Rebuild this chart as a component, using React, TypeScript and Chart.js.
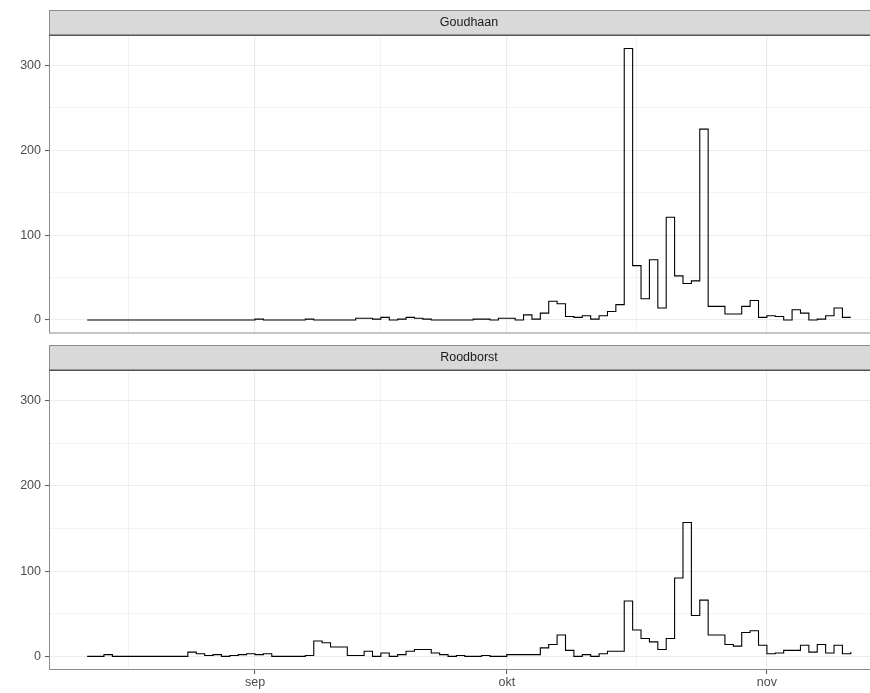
import React, { useEffect, useRef } from "react";
import { Chart, registerables } from "chart.js";

Chart.register(...registerables);

// x values are days relative to 1 september; first observation is 12 augustus
const START_DAY = -20;

const goudhaan = [
  0, 0, 0, 0, 0, 0, 0, 0, 0, 0, 0, 0, 0, 0, 0, 0, 0, 0, 0, 0,
  1, 0, 0, 0, 0, 0, 1, 0, 0, 0, 0, 0, 2, 2, 1, 3, 0, 1, 3, 2,
  1, 0, 0, 0, 0, 0, 1, 1, 0, 2, 2, 0, 6, 1, 8, 22, 19, 4, 3, 5,
  1, 5, 10, 18, 320, 64, 25, 71, 14, 121, 52, 43, 46, 225, 16, 16, 7, 7, 16, 23,
  3, 5, 4, 0, 12, 8, 0, 1, 5, 14, 3, 3,
];

const roodborst = [
  0, 0, 2, 0, 0, 0, 0, 0, 0, 0, 0, 0, 5, 3, 1, 2, 0, 1, 2, 3,
  2, 3, 0, 0, 0, 0, 1, 18, 16, 11, 11, 1, 1, 6, 0, 4, 0, 2, 6, 8,
  8, 4, 2, 0, 1, 0, 0, 1, 0, 0, 2, 2, 2, 2, 10, 14, 25, 7, 0, 2,
  0, 3, 6, 6, 65, 31, 21, 17, 8, 21, 92, 157, 48, 66, 25, 25, 14, 12, 28, 30,
  13, 3, 4, 7, 7, 13, 5, 14, 4, 13, 3, 5,
];

const panelTitles = ["Goudhaan", "Roodborst"];
const monthTicks = [0, 30, 61];
const monthLabels = ["sep", "okt", "nov"];
const minorXTicks = [-15.1, 15, 45.5];
const yMajor = [0, 100, 200, 300];
const yMinor = [50, 150, 250];

const X_MIN = -24.55;
const X_MAX = 75.55;
const Y_MIN = -16;
const Y_MAX = 336;

const FONT = '"Liberation Sans", Arial, Helvetica, sans-serif';
const STRIP_H = 25;

function panelPlugin(title: string) {
  return {
    id: "panelDecor",
    afterDraw(chart: any) {
      const { ctx, chartArea: a } = chart;
      const w = a.right - a.left;
      ctx.save();
      // strip background
      ctx.fillStyle = "#D9D9D9";
      ctx.fillRect(a.left, a.top - STRIP_H, w, STRIP_H);
      ctx.lineWidth = 1;
      ctx.strokeStyle = "#8c8c8c";
      ctx.strokeRect(a.left + 0.5, a.top - STRIP_H + 0.5, w - 1, STRIP_H);
      // panel border
      ctx.strokeRect(a.left + 0.5, a.top + 0.5, w - 1, a.bottom - a.top - 1);
      // darker line between strip and panel
      ctx.strokeStyle = "#555555";
      ctx.lineWidth = 1.5;
      ctx.beginPath();
      ctx.moveTo(a.left, a.top + 0.25);
      ctx.lineTo(a.right, a.top + 0.25);
      ctx.stroke();
      // strip text
      ctx.fillStyle = "#1A1A1A";
      ctx.font = `12.5px ${FONT}`;
      ctx.textAlign = "center";
      ctx.textBaseline = "middle";
      ctx.fillText(title, (a.left + a.right) / 2, a.top - STRIP_H / 2 + 0.5);
      ctx.restore();
    },
  };
}

function makeConfig(values: number[], title: string, showX: boolean, padTop: number, padBottom: number): any {
  const points = values.map((v, i) => ({ x: START_DAY + i, y: v }));
  const isMonth = (v: number) => monthTicks.indexOf(v) >= 0;
  const isYMajor = (v: number) => yMajor.indexOf(v) >= 0;
  return {
    type: "line",
    data: {
      datasets: [
        {
          data: points,
          stepped: true,
          borderColor: "#000000",
          borderWidth: 1.1,
          pointRadius: 0,
          fill: false,
          tension: 0,
        },
      ],
    },
    options: {
      responsive: false,
      animation: false,
      events: [],
      layout: { padding: { top: padTop, bottom: padBottom, left: 0, right: 3 } },
      plugins: { legend: { display: false }, tooltip: { enabled: false } },
      scales: {
        x: {
          type: "linear",
          min: X_MIN,
          max: X_MAX,
          bounds: "data",
          afterBuildTicks: (s: any) => {
            s.ticks = [...minorXTicks, ...monthTicks].sort((p, q) => p - q).map((v) => ({ value: v }));
          },
          afterFit: (s: any) => {
            s.height = showX ? 23 : 0;
          },
          border: { display: false },
          grid: {
            color: "#EBEBEB",
            lineWidth: (c: any) => (c.tick && isMonth(c.tick.value) ? 1.1 : 0.6),
            drawTicks: showX,
            tickLength: 4,
            tickWidth: 1,
            tickColor: (c: any) => (c.tick && isMonth(c.tick.value) ? "#555555" : "rgba(0,0,0,0)"),
          },
          ticks: {
            display: showX,
            autoSkip: false,
            maxRotation: 0,
            padding: 1,
            color: "#4D4D4D",
            font: { family: FONT, size: 12.5 },
            callback: (v: number) => {
              const i = monthTicks.indexOf(v);
              return i >= 0 ? monthLabels[i] : "";
            },
          },
        },
        y: {
          type: "linear",
          min: Y_MIN,
          max: Y_MAX,
          bounds: "data",
          afterBuildTicks: (s: any) => {
            s.ticks = [...yMajor, ...yMinor].sort((p, q) => p - q).map((v) => ({ value: v }));
          },
          afterFit: (s: any) => {
            s.width = 49;
          },
          border: { display: false },
          grid: {
            color: "#EBEBEB",
            lineWidth: (c: any) => (c.tick && isYMajor(c.tick.value) ? 1.1 : 0.6),
            drawTicks: true,
            tickLength: 4,
            tickWidth: 1,
            tickColor: (c: any) => (c.tick && isYMajor(c.tick.value) ? "#555555" : "rgba(0,0,0,0)"),
          },
          ticks: {
            autoSkip: false,
            padding: 4,
            color: "#4D4D4D",
            font: { family: FONT, size: 12.5 },
            callback: (v: number) => (isYMajor(v) ? String(v) : ""),
          },
        },
      },
    },
    plugins: [panelPlugin(title)],
  };
}

export default function App() {
  const ref1 = useRef<HTMLCanvasElement | null>(null);
  const ref2 = useRef<HTMLCanvasElement | null>(null);

  useEffect(() => {
    const c1 = new Chart(ref1.current as HTMLCanvasElement, makeConfig(goudhaan, panelTitles[0], false, 35, 10));
    const c2 = new Chart(ref2.current as HTMLCanvasElement, makeConfig(roodborst, panelTitles[1], true, 32, 0));
    return () => {
      c1.destroy();
      c2.destroy();
    };
  }, []);

  return (
    <div
      style={{
        position: "absolute",
        left: 0,
        top: 0,
        width: 870,
        height: 693,
        overflow: "hidden",
        background: "#ffffff",
      }}
    >
      <canvas
        ref={ref1}
        width={892}
        height={345}
        style={{ position: "absolute", left: 0, top: 0, width: 892, height: 345 }}
      />
      <canvas
        ref={ref2}
        width={892}
        height={355}
        style={{ position: "absolute", left: 0, top: 338, width: 892, height: 355 }}
      />
    </div>
  );
}
